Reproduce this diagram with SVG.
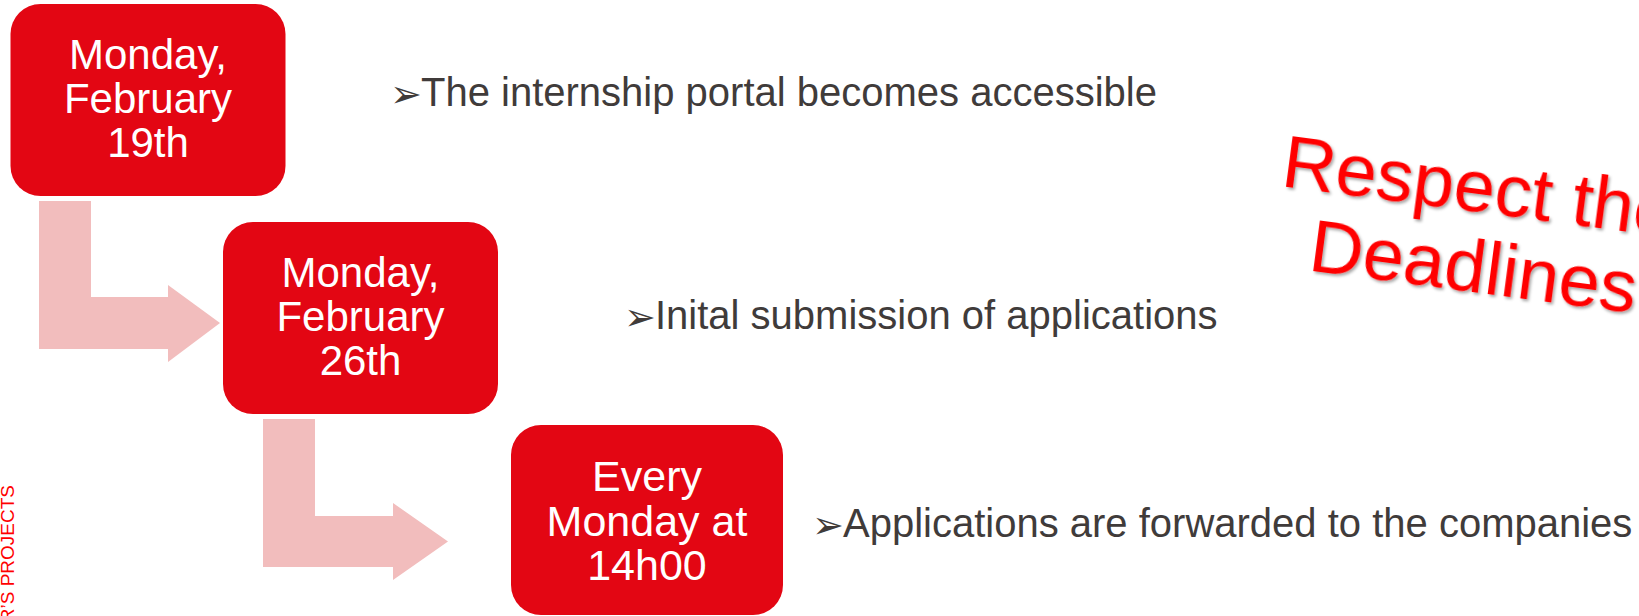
<svg xmlns="http://www.w3.org/2000/svg" width="1639" height="616" viewBox="0 0 1639 616">
  <style>
    .box { fill: #E30613; }
    .boxtext { fill: #FFFFFF; font-family: "Liberation Sans", Arial, sans-serif; font-size: 42px; text-anchor: middle; }
    .item { fill: #403B3A; font-family: "Liberation Sans", Arial, sans-serif; font-size: 40px; }
    .bullet { fill: #403B3A; font-family: "DejaVu Sans", sans-serif; font-size: 38px; }
    .arrow { fill: #F2BDBD; }
    .stamp { fill: #FF0000; font-family: "Liberation Sans", Arial, sans-serif; font-size: 74px; }
    .side { fill: #FF0000; font-family: "Liberation Sans", Arial, sans-serif; font-size: 19px; }
  </style>
  <defs>
    <filter id="shadow" x="-10%" y="-20%" width="120%" height="140%">
      <feDropShadow dx="2" dy="2" stdDeviation="1.5" flood-color="#000000" flood-opacity="0.35"/>
    </filter>
  </defs>

  <g id="connectors">
    <path class="arrow" d="M39,201 H91 V297 H168 V285 L220,323 L168,362 V349 H39 Z"/>
    <path class="arrow" d="M263,419 H315 V516 H393 V503 L448,541.5 L393,580 V567 H263 Z"/>
  </g>

  <g id="node-feb19">
    <rect class="box" x="10.5" y="4" width="275" height="192" rx="30" ry="30"/>
    <text class="boxtext"><tspan x="148" y="69">Monday,</tspan><tspan x="148" y="113">February</tspan><tspan x="148" y="157">19th</tspan></text>
  </g>

  <g id="node-feb26">
    <rect class="box" x="223" y="222" width="275" height="192" rx="30" ry="30"/>
    <text class="boxtext"><tspan x="360.5" y="287">Monday,</tspan><tspan x="360.5" y="331">February</tspan><tspan x="360.5" y="375">26th</tspan></text>
  </g>

  <g id="node-every-monday">
    <rect class="box" x="511" y="425" width="272" height="190" rx="30" ry="30"/>
    <text class="boxtext" style="font-size:43px"><tspan x="647" y="491">Every</tspan><tspan x="647" y="536">Monday at</tspan><tspan x="647" y="580">14h00</tspan></text>
  </g>

  <g id="item-1">
    <text class="item"><tspan class="bullet" x="390" y="107">➢</tspan><tspan x="421" y="106">The internship portal becomes accessible</tspan></text>
  </g>
  <g id="item-2">
    <text class="item"><tspan class="bullet" x="624" y="330">➢</tspan><tspan x="655" y="329">Inital submission of applications</tspan></text>
  </g>
  <g id="item-3">
    <text class="item"><tspan class="bullet" x="812" y="538">➢</tspan><tspan x="843" y="537">Applications are forwarded to the companies</tspan></text>
  </g>

  <g id="stamp" transform="translate(1280,186) rotate(7.5)" filter="url(#shadow)">
    <text class="stamp"><tspan x="0" y="0">Respect the</tspan><tspan x="38" y="80">Deadlines</tspan></text>
  </g>

  <g id="side-label" transform="translate(14,485) rotate(-90)">
    <text class="side" x="0" y="0" text-anchor="end">R’S PROJECTS</text>
  </g>
</svg>
